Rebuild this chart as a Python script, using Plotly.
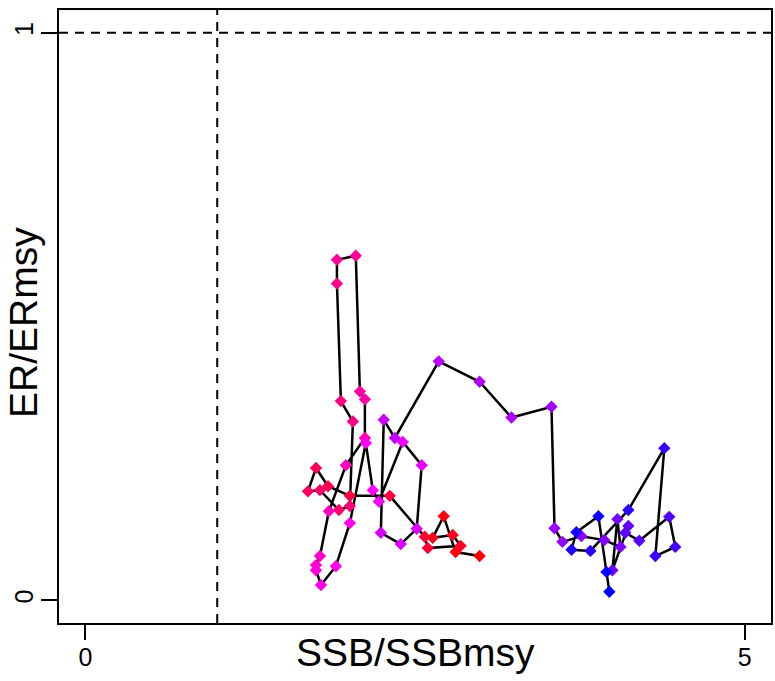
import numpy as np
import plotly.graph_objects as go

# SSB/SSBmsy and ER/ERmsy trajectory (in time order)
ssb = [2.990, 2.808, 2.718, 2.634, 2.786, 2.846, 2.597, 2.574, 2.309, 2.006,
       1.840, 1.749, 1.688, 1.779, 1.923, 2.006, 2.029, 1.938, 1.908, 1.908,
       2.051, 2.082, 2.120, 2.120, 1.976, 1.847, 1.779, 1.749, 1.749, 1.787,
       1.900, 2.006, 2.127, 2.180, 2.226, 2.407, 2.551, 2.513, 2.392, 2.241,
       2.263, 2.347, 2.680, 2.990, 3.232, 3.535, 3.558, 3.618, 3.762, 3.936,
       4.058, 4.035, 3.997, 4.118, 4.095, 4.201, 4.428, 4.474, 4.323, 4.391,
       4.118, 3.830, 3.687, 3.724, 3.891, 3.952, 3.974]
er = [0.078, 0.085, 0.148, 0.110, 0.115, 0.096, 0.092, 0.112, 0.184, 0.184,
      0.201, 0.233, 0.192, 0.194, 0.159, 0.166, 0.315, 0.351, 0.558, 0.600,
      0.607, 0.368, 0.354, 0.286, 0.238, 0.157, 0.078, 0.062, 0.053, 0.027,
      0.060, 0.136, 0.277, 0.194, 0.174, 0.279, 0.238, 0.126, 0.099, 0.119,
      0.318, 0.286, 0.421, 0.385, 0.322, 0.341, 0.127, 0.103, 0.113, 0.106,
      0.094, 0.143, 0.053, 0.131, 0.119, 0.105, 0.147, 0.094, 0.078, 0.268,
      0.159, 0.087, 0.089, 0.120, 0.148, 0.050, 0.015]

x_ticks = [0, 5]
y_ticks = [0, 1]
x_ref = 1
y_ref = 1

# colour ramp red -> magenta -> blue along time
n = len(ssb)
t = np.linspace(0, 1, n)
cols = []
for v in t:
    if v <= 0.5:
        r, b = 255, int(round(255 * v / 0.5))
    else:
        r, b = int(round(255 * (1 - (v - 0.5) / 0.5))), 255
    cols.append(f"rgb({r},0,{b})")

FONT = "Liberation Sans, Arial, sans-serif"

fig = go.Figure()
fig.add_trace(go.Scatter(x=ssb, y=er, mode="lines",
                         line=dict(color="black", width=2.5),
                         hoverinfo="skip", showlegend=False))
fig.add_trace(go.Scatter(x=ssb, y=er, mode="markers",
                         marker=dict(symbol="diamond", size=9.5, color=cols,
                                     line=dict(width=0)),
                         showlegend=False))

fig.add_shape(type="line", xref="paper", yref="y", x0=0, x1=1, y0=y_ref, y1=y_ref,
              line=dict(color="black", width=2, dash="9px,7px"))
fig.add_shape(type="line", xref="x", yref="paper", x0=x_ref, x1=x_ref, y0=0, y1=1,
              line=dict(color="black", width=2, dash="9px,7px"))

fig.add_annotation(text="SSB/SSBmsy", xref="paper", yref="paper", x=0.501, y=-0.048,
                   xanchor="center", yanchor="middle", showarrow=False,
                   font=dict(family=FONT, size=39, color="black"))
fig.add_annotation(text="ER/ERmsy", xref="paper", yref="paper", x=-0.05, y=0.49,
                   xanchor="center", yanchor="middle", showarrow=False, textangle=-90,
                   font=dict(family=FONT, size=39, color="black"))

fig.update_xaxes(range=[-0.2, 5.2], tickvals=x_ticks, ticktext=[str(v) for v in x_ticks],
                 showgrid=False, zeroline=False, showline=True, mirror=True,
                 linecolor="black", linewidth=2, ticks="outside", ticklen=15,
                 tickwidth=2, tickcolor="black", ticklabelstandoff=-4,
                 tickfont=dict(family=FONT, size=25, color="black"))
fig.update_yaxes(range=[-0.04, 1.04], tickvals=y_ticks, ticktext=[str(v) for v in y_ticks],
                 showgrid=False, zeroline=False, showline=True, mirror=True,
                 linecolor="black", linewidth=2, ticks="outside", ticklen=16,
                 tickwidth=2, tickcolor="black", tickangle=-90, ticklabelstandoff=-2,
                 tickfont=dict(family=FONT, size=25, color="black"))

fig.update_layout(width=775, height=681, margin=dict(l=59, r=2, t=10, b=58),
                  plot_bgcolor="white", paper_bgcolor="white")

fig.write_html("out.html", config={"displayModeBar": False},
               post_script="document.body.style.margin='0px';")
